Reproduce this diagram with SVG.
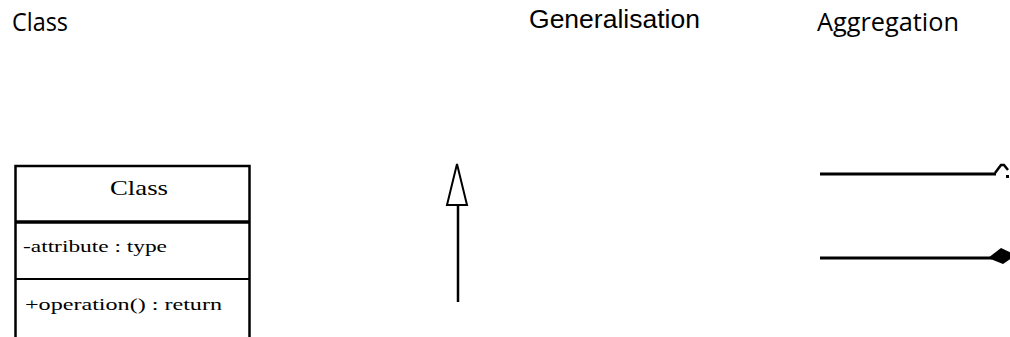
<svg xmlns="http://www.w3.org/2000/svg" width="1010" height="337" viewBox="0 0 1010 337">
<style>
.lbl{font-family:"Open Sans","Liberation Sans",sans-serif;font-size:25px;fill:#000}
.lbl2{font-family:"Liberation Sans",Arial,sans-serif;font-size:25px;fill:#000}
.uml{font-family:"Liberation Serif","Times New Roman",serif;fill:#000}
.ln{stroke:#000;fill:none}
</style>
<rect width="1010" height="337" fill="#fff"/>
<g id="labels">
<text class="lbl" x="12" y="31" textLength="56" lengthAdjust="spacingAndGlyphs">Class</text>
<text class="lbl2" x="529" y="28" textLength="171" lengthAdjust="spacingAndGlyphs">Generalisation</text>
<text class="lbl" x="817" y="31" textLength="142" lengthAdjust="spacingAndGlyphs">Aggregation</text>
</g>
<g id="class-node">
<path class="ln" stroke-width="2.5" d="M15.5,337 V166 H249.5 V337"/>
<line class="ln" stroke-width="3.5" x1="15" y1="222" x2="250" y2="222"/>
<line class="ln" stroke-width="2" x1="15" y1="279" x2="250" y2="279"/>
<text class="uml" x="110" y="195" font-size="21" textLength="58" lengthAdjust="spacingAndGlyphs">Class</text>
<text class="uml" x="23" y="252" font-size="16" textLength="144" lengthAdjust="spacingAndGlyphs">-attribute : type</text>
<text class="uml" x="25" y="310" font-size="16" textLength="197" lengthAdjust="spacingAndGlyphs">+operation() : return</text>
</g>
<g id="connectors">
<g id="generalisation">
<line class="ln" stroke-width="2.5" x1="458" y1="205" x2="458" y2="302"/>
<polygon points="457,164 467,205 447,205" fill="#fff" stroke="#000" stroke-width="2"/>
</g>
<g id="aggregation">
<line class="ln" stroke-width="3" x1="820" y1="174" x2="996" y2="174"/>
<polyline class="ln" stroke-width="2.5" points="995,173 1001,165 1004,165 1008,170"/>
<rect x="1006" y="175" width="3" height="3" fill="#000"/>
</g>
<g id="composition">
<line class="ln" stroke-width="3" x1="820" y1="258" x2="992" y2="258"/>
<polygon points="988,258 1001,248 1016,255 1003,264" fill="#000"/>
</g>
</g>
</svg>
